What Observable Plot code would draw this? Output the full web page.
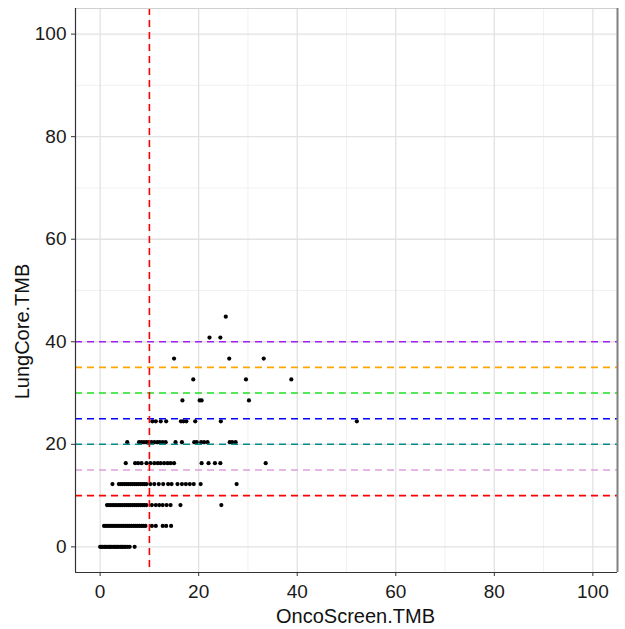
<!DOCTYPE html>
<html><head><meta charset="utf-8">
<script src="https://cdn.jsdelivr.net/npm/d3@7"></script>
<script src="https://cdn.jsdelivr.net/npm/@observablehq/plot@0.6"></script>
<style>body{margin:0;background:#fff} svg{display:block}</style>
</head><body><div id="chart"></div>
<script>
// LungCore.TMB levels (one per row of points)
const lungLevels = [0, 4.08, 8.16, 12.24, 16.33, 20.41, 24.49, 28.57, 32.65, 36.73, 40.82, 44.9];
// OncoScreen.TMB values for each LungCore level
const onco00 = [0, 0.2, 0.5, 0.8, 1.0, 1.3, 1.6, 1.9, 2.1, 2.4, 2.7, 3.0, 3.2, 3.5, 3.8, 4.1, 4.4, 4.6, 4.9, 5.2, 5.6, 6.0, 7.0];
const onco04 = [0.8, 1.2, 1.6, 2.0, 2.4, 2.8, 3.2, 3.6, 4.0, 4.4, 4.8, 5.2, 5.6, 6.0, 6.4, 6.8, 7.2, 7.6, 8.0, 8.4, 8.8, 9.2, 10.5, 11.3, 12.7, 13.4, 14.4];
const onco08 = [1.4, 1.8, 2.2, 2.6, 3.0, 3.4, 3.8, 4.2, 4.6, 5.0, 5.4, 5.8, 6.2, 6.6, 7.0, 7.4, 7.8, 8.2, 8.6, 9.0, 9.4, 10.5, 11.3, 12.0, 12.7, 13.5, 14.3, 16.3, 24.6];
const onco12 = [2.5, 3.8, 4.2, 4.6, 5.0, 5.4, 5.8, 6.2, 6.6, 7.0, 7.4, 7.8, 8.2, 8.6, 9.0, 9.4, 10.2, 11.0, 11.9, 12.8, 13.8, 14.5, 15.7, 16.6, 17.4, 18.2, 19.0, 20.4, 27.7];
const onco16 = [5.2, 7.1, 7.7, 8.4, 9.4, 10.2, 11.0, 11.7, 12.3, 13.0, 13.7, 14.3, 15.0, 20.6, 22.0, 23.3, 24.4, 33.6];
const onco20 = [5.5, 7.9, 8.4, 8.9, 9.4, 9.9, 10.4, 11.0, 11.6, 12.1, 12.7, 13.3, 15.3, 16.6, 19.1, 19.6, 20.5, 21.1, 21.8, 26.3, 26.8, 27.5];
const onco24 = [10.6, 11.3, 12.3, 13.4, 16.4, 16.9, 17.5, 19.3, 24.5, 52.1];
const onco28 = [16.7, 20.2, 20.6, 30.2];
const onco32 = [18.9, 29.6, 38.8];
const onco36 = [15.0, 26.2, 33.2];
const onco40 = [22.2, 24.4];
const onco44 = [25.5];

const thresholds = [10, 15, 20, 25, 30, 35, 40];
const thresholdColors = ["#ff0000", "#dda0dd", "#008b8b", "#0000ff", "#22e022", "#ffa500", "#a020f0"];
const oncoCutoff = [10];
const majorTicks = [0, 20, 40, 60, 80, 100];
const minorTicks = [10, 30, 50, 70, 90];
const xDomain = [-5, 105];
const yDomain = [-5, 105];

const rows = [onco00, onco04, onco08, onco12, onco16, onco20, onco24, onco28, onco32, onco36, onco40, onco44];
const points = rows.flatMap((row, i) => row.map(x => ({onco: x, lung: lungLevels[i]})));
const hlines = thresholds.map((v, i) => ({v, c: thresholdColors[i]}));

const dash = "7,5";
const plot = Plot.plot({
  width: 625, height: 629,
  marginLeft: 75, marginRight: 8, marginTop: 8, marginBottom: 57,
  style: {fontFamily: "'Liberation Sans', Arial, sans-serif", fontSize: "19px", background: "#fff", color: "#1a1a1a"},
  x: {domain: xDomain},
  y: {domain: yDomain},
  color: {type: "identity"},
  marks: [
    Plot.gridX(minorTicks, {stroke: "#eeeeee", strokeOpacity: 1, strokeWidth: 0.8}),
    Plot.gridY(minorTicks, {stroke: "#eeeeee", strokeOpacity: 1, strokeWidth: 0.8}),
    Plot.gridX(majorTicks, {stroke: "#e2e2e2", strokeOpacity: 1, strokeWidth: 1.3}),
    Plot.gridY(majorTicks, {stroke: "#e2e2e2", strokeOpacity: 1, strokeWidth: 1.3}),
    Plot.dot(points, {x: "onco", y: "lung", r: 2.1, fill: "#000", stroke: null}),
    Plot.ruleY(hlines, {y: "v", stroke: "c", strokeWidth: 1.6, strokeDasharray: dash}),
    Plot.ruleX(oncoCutoff, {stroke: "#ff0000", strokeWidth: 1.6, strokeDasharray: dash}),
    Plot.ruleY([yDomain[1]], {stroke: "#cfcfcf", strokeWidth: 1}),
    Plot.ruleX([xDomain[1]], {stroke: "#808080", strokeWidth: 2}),
    Plot.ruleX([xDomain[0]], {stroke: "#333", strokeWidth: 1.2}),
    Plot.ruleY([yDomain[0]], {stroke: "#333", strokeWidth: 1.2}),
    Plot.axisX(majorTicks, {tickSize: 4, tickPadding: 8, label: null, stroke: "#333", fontSize: 19}),
    Plot.axisY(majorTicks, {tickSize: 4, tickPadding: 5, label: null, stroke: "#333", fontSize: 19}),
    Plot.text(["OncoScreen.TMB"], {text: d => d, frameAnchor: "bottom", dy: 50, dx: 9, fontSize: 20, fill: "#111"}),
    Plot.text(["LungCore.TMB"], {text: d => d, frameAnchor: "left", textAnchor: "middle", rotate: -90, dx: -53, dy: 41, fontSize: 20, fill: "#111"})
  ]
});
document.getElementById("chart").appendChild(plot);
</script>
</body></html>
